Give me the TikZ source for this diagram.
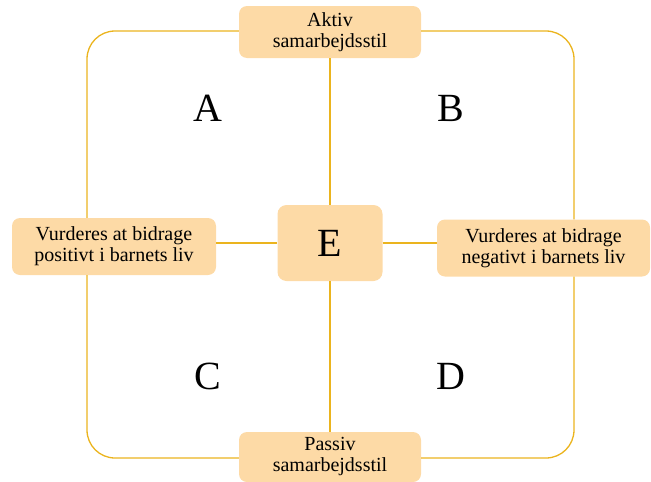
\documentclass[tikz,border=0pt]{standalone}
\usepackage{fontspec}
\setmainfont{Liberation Serif}
\usepackage{tikz}
\definecolor{peach}{RGB}{253,218,166}
\definecolor{gold}{RGB}{235,180,30}
\tikzset{
    role/.style = {rectangle, rounded corners=8pt, fill=peach, align=center, inner sep=0pt, font=\fontsize{20}{21}\selectfont},
    centerbox/.style = {rectangle, rounded corners=9pt, fill=peach, minimum width=105pt, minimum height=76pt, font=\fontsize{40}{44}\selectfont},
    quad/.style = {font=\fontsize{40}{44}\selectfont},
    link/.style = {draw=gold, line width=1.3pt},
    frame/.style = {draw=gold, line width=1.3pt, rounded corners=28pt}
}

\begin{document}
\begin{tikzpicture}[x=1pt, y=-1pt]
\useasboundingbox (0,0) rectangle (651,482);
\coordinate (ne) at (574,31);
\coordinate (sw) at (87,458);

\node (mid) [centerbox] at (330,243) {E};
\node (aktiv) [role, minimum width=182pt, minimum height=52pt] at (330,32) {Aktiv\\samarbejdsstil};
\node (passiv) [role, minimum width=182pt, minimum height=50pt] at (330,457) {Passiv\\samarbejdsstil};
\node (positiv) [role, minimum width=204pt, minimum height=57pt] at (114,246.5) {Vurderes at bidrage\\positivt i barnets liv};
\node (negativ) [role, minimum width=213pt, minimum height=57pt] at (543.5,248) {Vurderes at bidrage\\negativt i barnets liv};

\node (qa) [quad] at (208,108) {A};
\node (qb) [quad] at (451,108) {B};
\node (qc) [quad] at (208,376) {C};
\node (qd) [quad] at (451,376) {D};

% outer frame
\draw [frame] (aktiv.east |- ne) -| (ne |- negativ.north);
\draw [frame] (ne |- negativ.south) |- (passiv.east |- sw);
\draw [frame] (passiv.west |- sw) -| (sw |- positiv.south);
\draw [frame] (sw |- positiv.north) |- (aktiv.west |- ne);

% axes
\draw [link] (aktiv.south) -- (mid.north);
\draw [link] (mid.south) -- (passiv.north);
\draw [link] (positiv.east |- mid.west) -- (mid.west);
\draw [link] (mid.east) -- (negativ.west |- mid.east);
\end{tikzpicture}
\end{document}
